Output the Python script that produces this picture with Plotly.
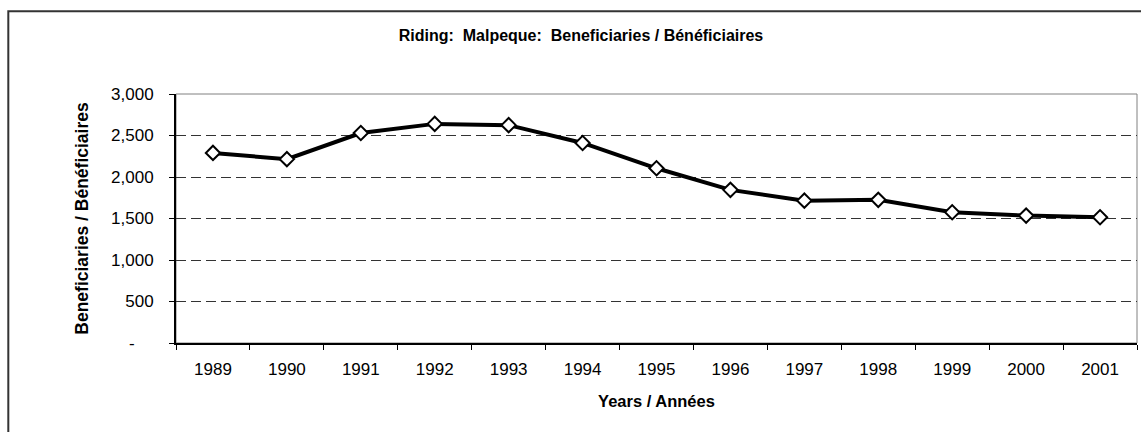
import plotly.graph_objects as go

years = ["1989", "1990", "1991", "1992", "1993", "1994", "1995",
         "1996", "1997", "1998", "1999", "2000", "2001"]
beneficiaries = [2290, 2215, 2530, 2640, 2625, 2410, 2105,
                 1845, 1715, 1725, 1575, 1535, 1515]
y_tickvals = [0, 500, 1000, 1500, 2000, 2500, 3000]
y_ticktext = ["-\u00a0\u00a0\u00a0\u00a0", "500", "1,000", "1,500", "2,000", "2,500", "3,000"]

title_text = "Riding:  Malpeque:  Beneficiaries / Bénéficiaires"
x_title = "Years / Années"
y_title = "Beneficiaries / Bénéficiaires"

bold_font = "Liberation Sans, Arial, sans-serif"
regular = "Liberation Sans, Arial, sans-serif"

fig = go.Figure()
fig.add_trace(go.Scatter(
    x=years, y=beneficiaries, mode="lines+markers",
    line=dict(color="black", width=4),
    marker=dict(symbol="diamond", size=11, color="white",
                line=dict(color="black", width=2)),
    showlegend=False, hoverinfo="x+y"))

fig.update_layout(
    width=1141, height=432,
    margin=dict(l=176, r=4, t=94, b=89),
    paper_bgcolor="white", plot_bgcolor="white",
    title=dict(text="<b>" + title_text.replace("  ", "\u00a0 ") + "</b>",
               x=581 / 1141, xanchor="center",
               y=1 - 35 / 432, yanchor="middle",
               font=dict(family=bold_font, size=16, color="black")),
    xaxis=dict(type="category", range=[-0.5, 12.5],
               tickson="boundaries", ticks="outside", ticklen=5,
               tickcolor="black", showgrid=False,
               showline=True, linecolor="black", linewidth=2,
               ticklabelstandoff=10,
               tickfont=dict(family=regular, size=17, color="black"),
               title=dict(text="<b>" + x_title + "</b>", standoff=17,
                          font=dict(family=bold_font, size=16.5, color="black"))),
    yaxis=dict(range=[0, 3000], tickvals=y_tickvals, ticktext=y_ticktext,
               ticks="outside", ticklen=5, tickcolor="black",
               showgrid=True, gridcolor="#333333", griddash="10px,5px", gridwidth=1,
               showline=True, linecolor="black", linewidth=2,
               zeroline=False, ticklabelstandoff=12,
               tickfont=dict(family=regular, size=17, color="black"),
               title=dict(text="<b>" + y_title + "</b>", standoff=18,
                          font=dict(family=bold_font, size=17.5, color="black"))),
)

# plot area border (gray)
fig.add_shape(type="rect", xref="paper", yref="paper", x0=0, x1=1, y0=0, y1=1,
              line=dict(color="#808080", width=1), layer="below")
# outer chart border
fig.add_shape(type="rect", xref="paper", yref="paper",
              x0=-0.1745, x1=1.02, y0=-0.5, y1=1.3325,
              line=dict(color="#333333", width=2))

fig.write_html("out.html", config={"displayModeBar": False},
               post_script="document.body.style.margin='0';")
